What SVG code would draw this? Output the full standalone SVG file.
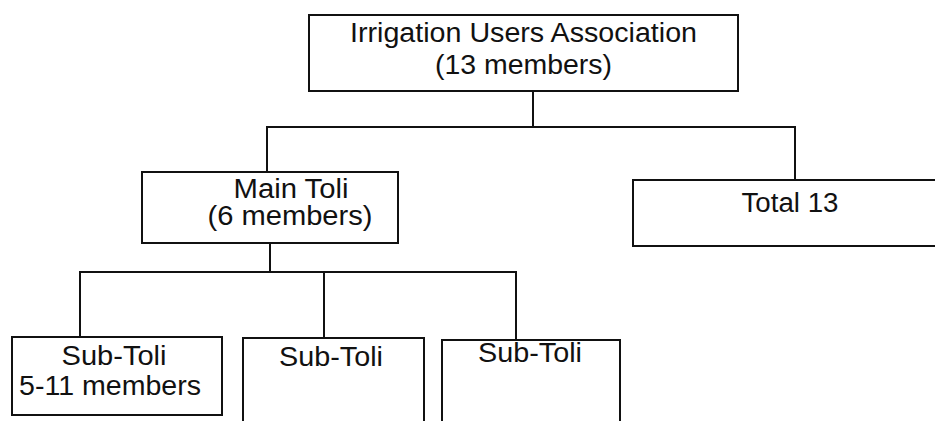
<svg xmlns="http://www.w3.org/2000/svg" width="935" height="421" viewBox="0 0 935 421">
<style>
.box{fill:none;stroke:#111;stroke-width:2}
.con{fill:none;stroke:#111;stroke-width:2}
text{font-family:"Liberation Sans",Arial,sans-serif;font-size:27px;fill:#111;text-anchor:middle}
</style>
<rect width="935" height="421" fill="#fff"/>
<g id="connectors">
<path class="con" d="M533 91V127"/>
<path class="con" d="M267 172V127H795V180"/>
<path class="con" d="M270 243V272"/>
<path class="con" d="M80 337V272H516V340"/>
<path class="con" d="M324 272V338"/>
</g>
<g id="iua">
<rect class="box" x="309" y="15" width="429" height="76"/>
<text x="523.5" y="42" textLength="347" lengthAdjust="spacingAndGlyphs">Irrigation Users Association</text>
<text x="523.5" y="74" textLength="177" lengthAdjust="spacingAndGlyphs">(13 members)</text>
</g>
<g id="main-toli">
<rect class="box" x="142" y="172" width="256" height="71"/>
<text x="291" y="198" textLength="115" lengthAdjust="spacingAndGlyphs">Main Toli</text>
<text x="290" y="225" textLength="165" lengthAdjust="spacingAndGlyphs">(6 members)</text>
</g>
<g id="total">
<rect class="box" x="633" y="180" width="320" height="66"/>
<text x="790" y="212" textLength="97" lengthAdjust="spacingAndGlyphs">Total 13</text>
</g>
<g id="sub1">
<rect class="box" x="12" y="337" width="210" height="78"/>
<text x="114" y="365" textLength="105" lengthAdjust="spacingAndGlyphs">Sub-Toli</text>
<text x="110" y="395" textLength="182" lengthAdjust="spacingAndGlyphs">5-11 members</text>
</g>
<g id="sub2">
<rect class="box" x="243" y="338" width="181" height="90"/>
<text x="331" y="366" textLength="104" lengthAdjust="spacingAndGlyphs">Sub-Toli</text>
</g>
<g id="sub3">
<rect class="box" x="442" y="340" width="178" height="90"/>
<text x="530" y="362" textLength="104" lengthAdjust="spacingAndGlyphs">Sub-Toli</text>
</g>
</svg>
